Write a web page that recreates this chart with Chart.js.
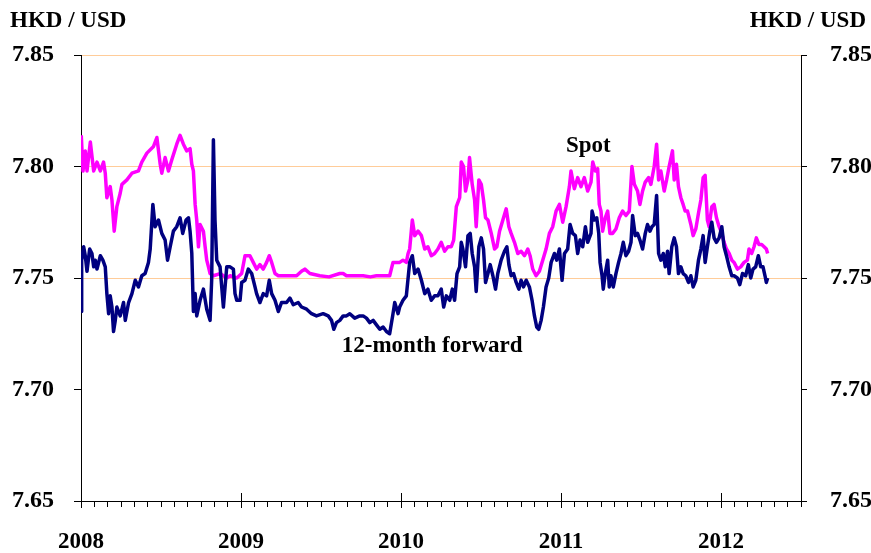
<!DOCTYPE html>
<html>
<head>
<meta charset="utf-8">
<script src="https://cdn.jsdelivr.net/npm/chart.js@4.4.1/dist/chart.umd.min.js"></script>
<style>
  html, body { margin: 0; padding: 0; background: #fff; }
  #wrap { width: 871px; height: 553px; }
</style>
</head>
<body>
<div id="wrap"><canvas id="rateChart" width="871" height="553"></canvas></div>
<script>
// x values are months since Jan 2008
const yearLabels = ["2008", "2009", "2010", "2011", "2012"];
const rateTicks = [7.65, 7.70, 7.75, 7.80, 7.85];
const gridRates = [7.75, 7.80, 7.85];

const spotMonths = [
  0.02,0.15,0.32,0.45,0.70,0.95,1.20,1.45,1.69,1.82,1.94,2.19,2.32,2.49,2.69,2.94,3.07,3.44,3.82,4.31,
  4.56,4.94,5.44,5.69,5.94,6.06,6.31,6.56,6.81,7.18,7.43,7.68,7.93,8.18,8.31,8.43,8.56,8.68,8.81,8.93,
  9.18,9.31,9.43,9.56,9.68,9.93,10.43,10.93,
  11.18,11.68,12.05,12.30,12.67,12.92,13.17,13.42,13.67,13.92,14.12,14.30,14.55,14.80,15.30,16.17,16.54,16.79,17.17,17.91,
  18.60,19.41,19.66,19.91,20.50,21.16,21.70,22.16,22.70,23.15,23.40,23.65,23.90,24.15,24.40,24.53,
  24.65,24.85,25.03,25.28,25.53,25.78,26.02,26.27,26.52,26.77,27.02,27.27,27.52,27.77,27.95,28.15,28.40,28.52,28.69,28.84,
  29.02,29.14,29.34,29.52,29.64,29.84,30.02,30.19,30.34,30.52,30.77,31.02,31.19,31.39,31.64,31.89,32.09,32.26,32.51,32.76,
  33.01,33.26,33.51,33.68,33.88,34.13,34.38,34.63,34.88,35.13,35.38,35.63,35.88,36.13,36.38,36.63,36.75,37.00,37.25,37.50,
  37.75,38.00,38.25,
  38.38,38.58,38.75,38.87,39.00,39.12,39.32,39.50,39.67,39.87,40.12,40.37,40.62,40.87,41.12,41.32,41.50,41.74,41.92,42.12,
  42.32,42.57,42.74,42.99,43.17,43.32,43.49,43.74,43.92,44.11,44.36,44.49,44.66,44.81,44.99,45.16,45.31,45.49,45.74,45.91,
  46.11,46.31,46.49,46.66,46.81,46.98,47.11,47.31,47.48,47.66,47.86,48.06,48.23,48.41,48.61,48.81,48.98,49.23,49.48,49.73,
  49.98,50.10,50.30,50.48,50.65,50.85,51.05,51.23,51.40,51.50
];
const spotRates = [
  7.814,7.798,7.807,7.798,7.811,7.798,7.802,7.798,7.802,7.797,7.786,7.791,7.785,7.771,7.782,7.788,7.792,7.794,7.797,7.798,
  7.802,7.806,7.809,7.813,7.801,7.797,7.804,7.798,7.803,7.810,7.814,7.810,7.807,7.808,7.801,7.798,7.783,7.776,7.764,7.774,
  7.771,7.764,7.758,7.755,7.752,7.751,7.752,7.750,
  7.751,7.750,7.752,7.760,7.760,7.757,7.754,7.756,7.754,7.757,7.760,7.757,7.752,7.751,7.751,7.751,7.753,7.754,7.752,7.751,
  7.7505,7.752,7.752,7.751,7.751,7.751,7.7505,7.751,7.751,7.751,7.757,7.757,7.757,7.758,7.757,7.761,
  7.763,7.776,7.769,7.771,7.769,7.763,7.764,7.760,7.761,7.763,7.766,7.762,7.764,7.764,7.767,7.782,7.786,7.802,7.800,7.789,
  7.794,7.804,7.792,7.785,7.773,7.794,7.792,7.785,7.777,7.776,7.770,7.763,7.764,7.771,7.776,7.781,7.773,7.770,7.766,7.761,
  7.762,7.760,7.763,7.760,7.754,7.751,7.753,7.758,7.763,7.770,7.773,7.780,7.783,7.775,7.782,7.791,7.798,7.790,7.795,7.791,
  7.795,7.789,7.793,
  7.802,7.798,7.799,7.783,7.780,7.771,7.777,7.780,7.770,7.770,7.772,7.777,7.780,7.778,7.780,7.800,7.792,7.789,7.783,7.789,
  7.793,7.795,7.792,7.800,7.810,7.794,7.798,7.789,7.794,7.800,7.807,7.794,7.801,7.791,7.786,7.783,7.780,7.780,7.774,7.769,
  7.772,7.779,7.785,7.795,7.796,7.776,7.773,7.782,7.783,7.777,7.773,7.770,7.766,7.763,7.761,7.758,7.757,7.754,7.755,7.757,
  7.758,7.763,7.761,7.764,7.768,7.765,7.765,7.764,7.763,7.761
];

const fwdMonths = [
  0.02,0.05,0.20,0.32,0.45,0.65,0.82,0.95,1.07,1.20,1.45,1.64,1.82,1.94,2.07,2.19,2.32,2.44,2.57,2.69,
  2.94,3.19,3.32,3.57,3.82,4.07,4.31,4.56,4.81,5.06,5.19,5.39,5.56,5.81,6.06,6.31,6.49,6.69,6.93,7.18,
  7.43,7.63,7.88,8.06,8.18,8.31,8.43,8.56,8.68,8.93,9.18,9.43,9.68,9.80,9.93,10.05,10.18,10.43,10.68,10.93,
  11.18,11.43,11.55,11.68,11.93,12.05,12.30,12.55,12.80,13.05,13.17,13.42,13.67,13.92,14.12,14.30,14.55,14.80,15.04,15.42,
  15.67,15.92,16.29,16.54,16.92,17.29,17.66,18.16,18.54,18.79,18.96,19.16,19.41,19.66,19.91,20.16,20.53,20.91,21.16,21.41,
  21.66,21.91,22.16,22.41,22.66,22.91,23.15,23.40,23.53,23.78,23.90,24.15,24.40,
  24.65,24.85,25.03,25.28,25.53,25.78,26.02,26.27,26.52,26.77,27.02,27.20,27.40,27.65,27.85,28.02,28.20,28.40,28.52,28.64,
  28.84,29.02,29.19,29.34,29.52,29.64,29.84,30.02,30.19,30.34,30.52,30.69,30.89,31.09,31.26,31.51,31.76,31.94,32.09,32.26,
  32.44,32.64,32.84,33.01,33.19,33.39,33.63,33.83,34.01,34.18,34.33,34.51,34.68,34.88,35.08,35.26,35.51,35.68,35.88,36.08,
  36.26,36.50,36.68,36.88,37.08,37.25,37.43,37.63,37.83,38.00,38.25,
  38.33,38.50,38.68,38.83,38.93,39.08,39.17,39.32,39.50,39.62,39.75,39.92,40.12,40.32,40.50,40.67,40.87,41.07,41.25,41.37,
  41.57,41.74,41.92,42.12,42.32,42.49,42.67,42.82,42.99,43.17,43.32,43.49,43.67,43.82,43.99,44.11,44.31,44.49,44.66,44.81,
  44.99,45.16,45.36,45.56,45.74,45.91,46.11,46.31,46.49,46.66,46.81,46.98,47.16,47.31,47.48,47.66,47.86,48.06,48.23,48.41,
  48.61,48.81,48.98,49.23,49.41,49.61,49.85,50.05,50.23,50.40,50.60,50.80,50.98,51.15,51.30,51.40,51.50
];
const fwdRates = [
  7.735,7.758,7.764,7.760,7.753,7.763,7.761,7.755,7.758,7.754,7.760,7.758,7.755,7.743,7.734,7.742,7.737,7.726,7.731,7.737,
  7.733,7.739,7.731,7.739,7.743,7.749,7.746,7.751,7.752,7.757,7.763,7.783,7.773,7.776,7.770,7.767,7.758,7.764,7.771,7.773,
  7.777,7.770,7.776,7.777,7.771,7.761,7.735,7.743,7.733,7.740,7.745,7.736,7.731,7.749,7.812,7.776,7.758,7.755,7.737,7.755,
  7.755,7.754,7.743,7.740,7.740,7.748,7.749,7.754,7.752,7.746,7.743,7.739,7.743,7.742,7.749,7.743,7.740,7.735,7.739,7.739,
  7.741,7.738,7.739,7.737,7.736,7.734,7.733,7.734,7.733,7.731,7.727,7.730,7.731,7.733,7.733,7.734,7.732,7.733,7.733,7.732,
  7.730,7.731,7.729,7.727,7.728,7.726,7.725,7.734,7.739,7.734,7.737,7.740,7.742,
  7.757,7.760,7.752,7.754,7.749,7.743,7.745,7.740,7.742,7.742,7.745,7.737,7.742,7.740,7.745,7.740,7.752,7.755,7.766,7.763,
  7.755,7.769,7.770,7.761,7.755,7.744,7.764,7.768,7.763,7.748,7.752,7.756,7.751,7.745,7.752,7.758,7.762,7.764,7.756,7.751,
  7.752,7.748,7.745,7.749,7.746,7.749,7.746,7.740,7.733,7.728,7.727,7.731,7.737,7.746,7.750,7.757,7.761,7.758,7.763,7.749,
  7.761,7.763,7.774,7.770,7.769,7.761,7.767,7.764,7.773,7.766,7.770,
  7.780,7.776,7.777,7.770,7.757,7.751,7.745,7.752,7.758,7.746,7.751,7.746,7.752,7.757,7.761,7.766,7.760,7.762,7.766,7.778,
  7.769,7.770,7.767,7.763,7.770,7.774,7.771,7.773,7.774,7.787,7.761,7.758,7.761,7.755,7.762,7.752,7.764,7.768,7.764,7.752,
  7.755,7.752,7.751,7.748,7.751,7.746,7.749,7.758,7.763,7.769,7.757,7.764,7.771,7.775,7.768,7.766,7.768,7.773,7.764,7.760,
  7.755,7.751,7.751,7.750,7.747,7.752,7.751,7.756,7.750,7.754,7.755,7.760,7.755,7.755,7.751,7.748,7.750
];

const toPoints = (xs, ys) => xs.map((m, i) => ({ x: m, y: ys[i] }));

const serif = "'Liberation Serif', 'Times New Roman', serif";
const orange = "#FFCC99";

// year ticks cross the axis, plus titles and series names
const textPlugin = {
  id: "textPlugin",
  afterDraw(chart) {
    const { ctx, scales, chartArea } = chart;
    const x = scales.x;
    const y = scales.y;
    ctx.save();
    ctx.strokeStyle = "#000";
    ctx.lineWidth = 1;
    yearLabels.forEach((_, i) => {
      const px = Math.round(x.getPixelForValue(i * 12)) + 0.5;
      ctx.beginPath();
      ctx.moveTo(px, chartArea.bottom - 8);
      ctx.lineTo(px, chartArea.bottom + 7);
      ctx.stroke();
    });
    ctx.fillStyle = "#000";
    ctx.font = "bold 23px " + serif;
    ctx.textBaseline = "alphabetic";
    ctx.textAlign = "left";
    ctx.fillText("HKD / USD", 10, 27);
    ctx.textAlign = "right";
    ctx.fillText("HKD / USD", 866, 27);
    ctx.textAlign = "center";
    ctx.fillText("Spot", x.getPixelForValue(38.05), y.getPixelForValue(7.8065));
    ctx.fillText("12-month forward", x.getPixelForValue(26.34), y.getPixelForValue(7.7167));
    ctx.restore();
  }
};

const tickFont = size => ({ family: serif, size: size, weight: "bold" });

new Chart(document.getElementById("rateChart"), {
  type: "line",
  data: {
    datasets: [
      {
        label: "12-month forward",
        data: toPoints(fwdMonths, fwdRates),
        borderColor: "#000080",
        borderWidth: 3.5,
        borderJoinStyle: "round",
        pointRadius: 0,
        tension: 0,
        order: 0,
        yAxisID: "y",
      },
      {
        label: "Spot",
        data: toPoints(spotMonths, spotRates),
        borderColor: "#FF00FF",
        borderWidth: 3.5,
        borderJoinStyle: "round",
        pointRadius: 0,
        tension: 0,
        order: 1,
        yAxisID: "y",
      },
    ],
  },
  options: {
    responsive: false,
    animation: false,
    devicePixelRatio: 1,
    layout: { padding: { top: 55 } },
    plugins: { legend: { display: false }, tooltip: { enabled: false } },
    scales: {
      x: {
        type: "linear",
        min: 0,
        max: 54,
        afterBuildTicks: s => { s.ticks = Array.from({ length: 55 }, (_, i) => ({ value: i })); },
        afterFit: s => { s.height = 52; },
        ticks: {
          autoSkip: false,
          maxRotation: 0,
          padding: 21,
          color: "#000",
          font: tickFont(23),
          callback: v => (v % 12 === 0 ? yearLabels[v / 12] : ""),
        },
        grid: { drawOnChartArea: false, tickLength: 6, color: "#000" },
        border: { color: "#000", width: 1 },
      },
      y: {
        position: "left",
        min: 7.65,
        max: 7.85,
        afterBuildTicks: s => { s.ticks = rateTicks.map(v => ({ value: v })); },
        afterFit: s => { s.width = 81; },
        ticks: { padding: 20, color: "#000", font: tickFont(24), callback: v => v.toFixed(2) },
        grid: { drawOnChartArea: false, tickLength: 7, color: "#000" },
        border: { color: "#000", width: 1 },
      },
      y2: {
        position: "right",
        min: 7.65,
        max: 7.85,
        afterBuildTicks: s => { s.ticks = rateTicks.map(v => ({ value: v })); },
        afterFit: s => { s.width = 70; },
        ticks: { padding: 23, color: "#000", font: tickFont(24), callback: v => v.toFixed(2) },
        grid: {
          drawOnChartArea: true,
          tickLength: 6,
          tickColor: "#000",
          color: c => (gridRates.some(g => Math.abs(g - c.tick.value) < 1e-6) ? orange : "rgba(0,0,0,0)"),
        },
        border: { color: "#000", width: 1 },
      },
    },
  },
  plugins: [textPlugin],
});
</script>
</body>
</html>
